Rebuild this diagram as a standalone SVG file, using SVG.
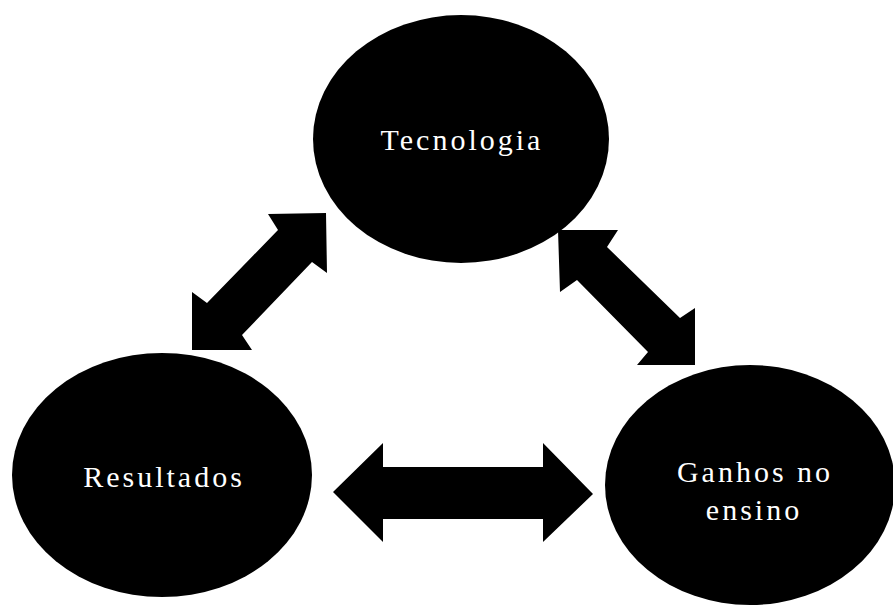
<svg xmlns="http://www.w3.org/2000/svg" width="893" height="606" viewBox="0 0 893 606">
<style>
.node{fill:#000}
.lbl{fill:#fff;font-family:"Liberation Serif","DejaVu Serif",serif;font-size:30px;letter-spacing:3px;text-anchor:middle}
.arr{fill:#000}
</style>
<rect width="893" height="606" fill="#fff"/>
<g id="connectors">
<polygon class="arr" points="326,213 327,273 312,262 242,335 252,350 192,350 192,292 207,303 278,230 268,214"/>
<polygon class="arr" points="558,230 618,230 607,247 680,318 695,308 695,365 637,365 648,352 577,280 560,292"/>
<polygon class="arr" points="333,492 383,443 383,467 543,467 543,443 593,494 543,542 543,519 383,519 383,542"/>
</g>
<g id="tecnologia">
<ellipse class="node" cx="461" cy="139" rx="148" ry="124"/>
<text class="lbl" x="462" y="150">Tecnologia</text>
</g>
<g id="resultados">
<ellipse class="node" cx="162" cy="475" rx="150" ry="122"/>
<text class="lbl" x="164" y="487">Resultados</text>
</g>
<g id="ganhos">
<ellipse class="node" cx="750" cy="485" rx="145" ry="120"/>
<text class="lbl" x="755" y="482">Ganhos no</text>
<text class="lbl" x="754" y="520">ensino</text>
</g>
</svg>
